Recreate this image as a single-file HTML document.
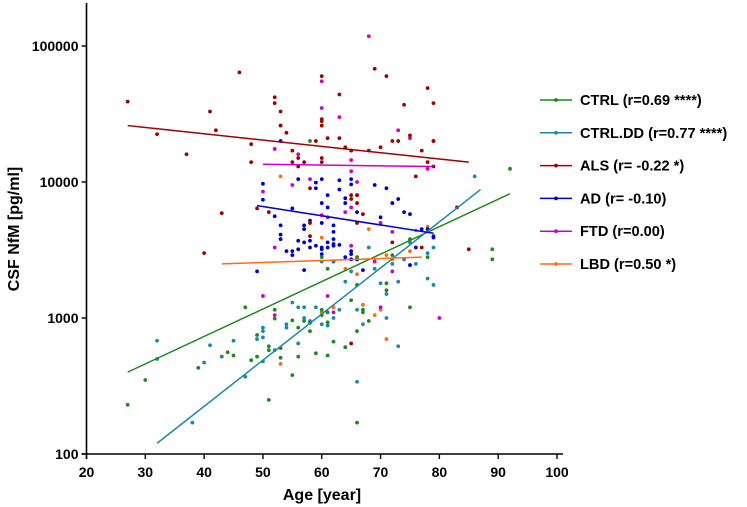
<!DOCTYPE html>
<html><head><meta charset="utf-8"><style>
html,body{margin:0;padding:0;background:#fff;}
svg{display:block;font-family:"Liberation Sans",Arial,sans-serif;font-weight:bold;}
</style></head><body>
<svg id="chart" width="747" height="507"></svg>
<script>
const xTicks=[20,30,40,50,60,70,80,90,100];
const yTicks=[100,1000,10000,100000];
const yTickLabels=["100","1000","10000","100000"];
const groupNames=["CTRL","CTRL.DD","ALS","AD","FTD","LBD"];
const legendLabels=["CTRL (r=0.69 ****)","CTRL.DD (r=0.77 ****)","ALS (r= -0.22 *)","AD (r= -0.10)","FTD (r=0.00)","LBD (r=0.50 *)"];
const colors=["#1b8a1b","#1a88a8","#a00000","#0000cc","#cc00cc","#ff6a13"];
const fitLines=[[[27,400],[92,8200]],[[32,120],[87,8800]],[[27,26000],[85,14000]],[[49,6700],[79,4200]],[[50,13500],[79,13000]],[[43,2500],[77,2800]]];
const ctrlPts=[[27,230],[30,350],[39,430],[44,560],[45,530],[47,1200],[48,490],[49,750],[49,520],[51,620],[51,580],[51,250],[52,990],[52,1150],[53,600],[53,510],[55,380],[55,960],[56,850],[56,520],[57,950],[58,920],[58,800],[59,550],[60,1050],[60,1150],[61,1100],[61,930],[61,530],[62,670],[64,610],[65,1350],[66,1750],[66,800],[66,170],[67,1100],[67,1150],[68,950],[71,1600],[71,1800],[75,1200],[78,2800],[89,2700],[89,3200],[92,12500],[58,20000],[66,2800],[72,2900],[75,3800],[60,2800],[61,2300]];
const ctrlDDPts=[[32,680],[32,500],[38,170],[40,470],[41,630],[43,520],[45,680],[47,370],[49,700],[50,850],[50,800],[50,720],[50,480],[52,580],[54,900],[54,850],[55,1300],[56,1200],[56,650],[57,1000],[57,1200],[58,950],[59,1200],[60,900],[61,880],[62,1000],[63,1150],[64,1850],[65,2200],[66,1150],[66,340],[67,900],[69,2300],[70,1800],[71,1000],[71,1500],[72,2500],[73,1850],[73,620],[74,2700],[76,2500],[78,1950],[78,3000],[79,3300],[79,1750],[86,11000],[62,2600],[60,2600],[68,3300],[75,3600]];
const alsPts=[[27,39000],[32,22500],[37,16000],[40,3000],[41,33000],[42,24000],[43,5900],[46,64000],[48,19000],[48,14000],[49,6400],[51,6000],[52,42000],[52,38000],[53,33000],[53,26000],[54,23000],[55,14000],[55,17000],[56,15000],[56,13000],[57,14000],[58,5000],[58,4000],[58,9000],[59,20000],[60,60000],[60,29000],[60,28000],[60,26000],[60,14000],[60,15000],[61,21000],[63,44000],[63,21000],[64,18000],[65,17000],[65,8000],[65,7500],[66,7000],[66,8000],[66,5000],[67,5800],[68,17000],[69,68000],[70,18000],[71,60000],[72,20000],[73,20000],[74,37000],[75,22000],[76,11000],[77,17000],[78,49000],[79,38000],[79,20000],[78,14000],[79,13000],[85,3200],[83,6500],[77,3300],[72,3600],[65,650]];
const adPts=[[49,2200],[57,2250],[60,3300],[60,3200],[61,3600],[62,3400],[62,3500],[63,3450],[64,2800],[65,2950],[65,2700],[62,2600],[67,2250],[69,9500],[70,5500],[71,9000],[72,7000],[73,7500],[74,6000],[75,5800],[76,3300],[77,4500],[78,4500],[79,4000],[79,3900],[75,2450],[56,10500],[58,5200],[59,9000],[60,10500],[61,6500],[63,8800],[64,7600],[65,10500],[65,9600],[64,7000],[56,3700],[57,3600],[58,3700],[59,3400],[61,3300],[62,4800],[62,4300],[62,3800],[58,3300],[55,6400],[52,5600],[50,9700],[50,7400],[57,4800],[57,4500],[60,5000],[60,7000],[61,8000],[53,20000],[59,9900],[63,10300],[66,6000],[55,2900],[60,2950],[65,3100],[66,2700],[53,4800],[53,4100],[53,3800],[54,3100],[55,3100],[56,3200]];
const ftdPts=[[68,118000],[60,55000],[60,35000],[63,30000],[52,17500],[56,16000],[65,14500],[65,12000],[58,10500],[55,9500],[50,8500],[66,10000],[66,8000],[65,6500],[60,5700],[64,6000],[52,3300],[61,5500],[72,4300],[69,2600],[70,5000],[75,21000],[78,12500],[80,1000],[50,1450],[61,1450],[70,1200],[72,2200],[52,1050],[73,24000],[79,20000],[62,1100],[65,3400]];
const lbdPts=[[53,11000],[43,520],[53,460],[60,1100],[62,1200],[64,2300],[66,2100],[67,1250],[69,1050],[70,1150],[71,700],[71,2900],[75,3100],[72,2700],[68,4500],[78,4700],[76,4400],[60,3900]];
const groups=[ctrlPts,ctrlDDPts,alsPts,adPts,ftdPts,lbdPts];

const NS="http://www.w3.org/2000/svg";
const svg=document.getElementById("chart");
const X0=86.5,X1=557,Y100=454,DEC=136;
function sx(v){return X0+(v-20)*(X1-X0)/80;}
function sy(v){return Y100-(Math.log10(v)-2)*DEC;}
function mk(t,a,p){const e=document.createElementNS(NS,t);for(const k in a)e.setAttribute(k,a[k]);(p||svg).appendChild(e);return e;}

let e=mk("line",{x1:X0,y1:3,x2:X0,y2:Y100+5,stroke:"#000","stroke-width":1.6});


e=mk("line",{x1:X0-5,y1:Y100,x2:563,y2:Y100,stroke:"#000","stroke-width":1.6});


xTicks.forEach(t=>{
  mk("line",{x1:sx(t),y1:Y100,x2:sx(t),y2:Y100+5,stroke:"#000","stroke-width":1.4});
  const tx=mk("text",{x:sx(t),y:Y100+23,"text-anchor":"middle","font-size":"14"});
  tx.textContent=t;
  
  
});
yTicks.forEach((t,i)=>{
  mk("line",{x1:X0-5,y1:sy(t),x2:X0,y2:sy(t),stroke:"#000","stroke-width":1.4});
  const tx=mk("text",{x:X0-8,y:sy(t)+5,"text-anchor":"end","font-size":"14"});
  tx.textContent=yTickLabels[i];
  
  
});
e=mk("text",{x:322,y:500,"text-anchor":"middle","font-size":"16"});
e.textContent="Age [year]";


e=mk("text",{x:0,y:0,"text-anchor":"middle","font-size":"16",transform:"translate(19,229) rotate(-90)"});
e.textContent="CSF NfM [pg/ml]";



for(let g=groups.length-1;g>=0;g--){
  const gEl=mk("g",{fill:colors[g]});
  
  
  groups[g].forEach(p=>{
    const c=mk("circle",{cx:sx(p[0]),cy:sy(p[1]),r:1.9},gEl);
    
    
  });
}
fitLines.forEach((f,g)=>{
  const l=mk("line",{x1:sx(f[0][0]),y1:sy(f[0][1]),x2:sx(f[1][0]),y2:sy(f[1][1]),stroke:colors[g],"stroke-width":1.5});
  
  
});
legendLabels.forEach((lab,i)=>{
  const y=100+i*32.8;
  const gEl=mk("g",{});
  
  
  mk("line",{x1:540,y1:y,x2:572,y2:y,stroke:colors[i],"stroke-width":1.5},gEl);
  mk("circle",{cx:556,cy:y,r:1.9,fill:colors[i]},gEl);
  const t=mk("text",{x:580,y:y+5,"font-size":"14.6"},gEl);
  t.textContent=lab;
});
</script>
</body></html>
